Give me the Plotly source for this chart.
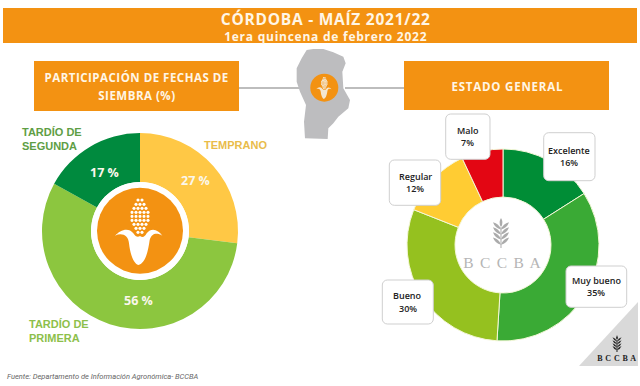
import math
import plotly.graph_objects as go

W, H = 640, 386

# ---- data ----
siembra_labels = ["Temprano", "Tardío de primera", "Tardío de segunda"]
siembra_values = [27, 56, 17]
siembra_colors = ["#FFC845", "#8CC63F", "#008A3E"]

estado_labels = ["Excelente", "Muy bueno", "Bueno", "Regular", "Malo"]
estado_values = [16, 35, 30, 12, 7]
estado_colors = ["#008D36", "#3AAA35", "#95C11F", "#FFCC33", "#E30613"]

ORANGE = "#F39212"
CREAM = "#FFF6E6"


def px(x):
    return x / W


def py(y):
    return 1 - y / H


shapes = []
annotations = []


def rect(x0, y0, x1, y1, fill):
    shapes.append(dict(type="rect", xref="paper", yref="paper", x0=px(x0), x1=px(x1),
                       y0=py(y1), y1=py(y0), fillcolor=fill, line=dict(width=0), layer="above"))


def circle(cx, cy, r, fill):
    shapes.append(dict(type="circle", xref="paper", yref="paper", x0=px(cx - r), x1=px(cx + r),
                       y0=py(cy + r), y1=py(cy - r), fillcolor=fill, line=dict(width=0), layer="above"))


def path(cmds, fill=None, line=None, lw=0):
    s = ""
    for c in cmds:
        s += c[0] + " " + " ".join(
            f"{px(c[i]):.5f} {py(c[i + 1]):.5f}" for i in range(1, len(c), 2)) + " "
    if fill:
        s += "Z"
    shapes.append(dict(type="path", xref="paper", yref="paper", path=s,
                       fillcolor=fill or "rgba(0,0,0,0)",
                       line=dict(width=lw, color=line or "rgba(0,0,0,0)"), layer="above"))


def poly(points, fill):
    path([("M", *points[0])] + [("L", *p) for p in points[1:]], fill=fill)


def text(x, y, s, size, color, family="Open Sans", weight=700, anchor="center", italic=False):
    annotations.append(dict(x=px(x), y=py(y), xref="paper", yref="paper", text=s, showarrow=False,
                            xanchor=anchor, yanchor="middle", align=anchor,
                            font=dict(size=size, color=color, family=family, weight=weight,
                                      style="italic" if italic else "normal"),
                            borderpad=0, borderwidth=0))


def round_box(x0, y0, x1, y1, r=5):
    k = r * 0.45
    path([("M", x0 + r, y0), ("L", x1 - r, y0), ("C", x1 - k, y0, x1, y0 + k, x1, y0 + r),
          ("L", x1, y1 - r), ("C", x1, y1 - k, x1 - k, y1, x1 - r, y1),
          ("L", x0 + r, y1), ("C", x0 + k, y1, x0, y1 - k, x0, y1 - r),
          ("L", x0, y0 + r), ("C", x0, y0 + k, x0 + k, y0, x0 + r, y0)],
         fill="#FFFFFF", line="#CFCFCF", lw=1)


def corn(cx, cy, scale, color):
    def T(zx, zy):
        return cx + (zx - 165) / 3 * scale, cy + (zy - 167) / 3 * scale

    rows = [(75, [159, 171]), (88, [153, 165, 177]), (100, [147, 159, 171, 183]),
            (112, [141, 153, 165, 177, 189]), (124, [141, 153, 165, 177, 189]),
            (136, [141, 153, 165, 177, 189]), (148, [147, 159, 171, 183]),
            (160, [153, 165, 177]), (172, [159, 171])]
    for zy, xs in rows:
        for zx in xs:
            circle(*T(zx, zy), max(1.55 * scale, 0.75), color)
    curve = [
        ("M", 90, 182),
        ("C", 105, 165, 130, 155, 145, 175), ("C", 152, 187, 160, 187, 165, 183),
        ("C", 172, 188, 178, 188, 185, 175), ("C", 200, 156, 220, 165, 232, 182),
        ("C", 215, 172, 200, 175, 194, 195), ("C", 190, 225, 182, 265, 160, 270),
        ("C", 145, 265, 135, 235, 132, 205), ("C", 130, 180, 110, 172, 90, 182),
    ]
    cmds = []
    for c in curve:
        pts = []
        for i in range(1, len(c), 2):
            pts += list(T(c[i], c[i + 1]))
        cmds.append((c[0], *pts))
    path(cmds, fill=color)


def wheat(cx, top, h, color):
    def leaf(x, y, angle, length, width):
        a = math.radians(angle)
        ux, uy = math.sin(a), -math.cos(a)
        nx, ny = -uy, ux
        mx, my = x + ux * length / 2, y + uy * length / 2
        path([("M", x, y),
              ("Q", mx + nx * width, my + ny * width, x + ux * length, y + uy * length),
              ("Q", mx - nx * width, my - ny * width, x, y)], fill=color)

    L = h * 0.36
    w = h * 0.10
    leaf(cx, top + h * 0.30, 0, h * 0.30, w)
    for f in (0.38, 0.55, 0.72, 0.89):
        leaf(cx, top + h * f, -48, L, w)
        leaf(cx, top + h * f, 48, L, w)
    path([("M", cx, top + h * 0.3), ("L", cx, top + h)], line=color, lw=1)


# ---- header (two lines in one text) ----
rect(3, 8, 637, 43, ORANGE)
text(325.5, 26.3, '<span style="font-size:15.5px">CÓRDOBA - MAÍZ 2021/22</span><br>1era quincena de febrero 2022',
     12, CREAM, weight=700)

# ---- connector lines and map ----
rect(238, 87, 300, 89, "#BDBDBD")
rect(345, 87, 405, 89, "#BDBDBD")
map_z = [(80, 15), (100, 12), (130, 12), (160, 22), (190, 35), (197, 55), (187, 80), (190, 130),
         (210, 165), (205, 190), (175, 215), (160, 235), (145, 250), (143, 282), (75, 280),
         (72, 230), (78, 180), (60, 140), (50, 110), (50, 70), (65, 40)]
poly([(280 + a / 3, 45 + b / 3) for a, b in map_z], "#BDBDBF")
circle(324.3, 87.7, 14, ORANGE)
corn(324.3, 87.7, 14 / 43, "#F3E6D0")

# ---- section boxes ----
rect(34, 61, 239, 111, ORANGE)
rect(404, 61, 609, 110, ORANGE)
text(136, 77.7, "PARTICIPACIÓN DE FECHAS DE", 11.5, CREAM)
text(137, 95.7, "SIEMBRA (%)", 11.5, CREAM)
text(507, 86, "ESTADO GENERAL", 11.5, CREAM)

# ---- left donut centre ----
circle(140, 231, 49, "#FFFFFF")
circle(140, 230.7, 43, ORANGE)
corn(140, 230.7, 1, "#FFFFFF")

# ---- left labels ----
GREEN_TXT = "#5E9E45"
text(22, 132, "TARDÍO DE", 11, GREEN_TXT, family="Liberation Sans", anchor="left")
text(22, 146, "SEGUNDA", 11, GREEN_TXT, family="Liberation Sans", anchor="left")
text(204, 145, "TEMPRANO", 11, "#E9BC4A", family="Liberation Sans", anchor="left")
text(29, 324, "TARDÍO DE", 11, "#8DBF4B", family="Liberation Sans", anchor="left")
text(29, 338, "PRIMERA", 11, "#8DBF4B", family="Liberation Sans", anchor="left")
pct_pos = [(195, 180), (138, 300), (104, 172)]
for (x, y), v in zip(pct_pos, siembra_values):
    text(x, y, f"{v} %", 12.5, "#FBF7EC")

# ---- right donut centre ----
wheat(501, 218, 30, "#ABABAB")
text(503, 262, "B C C B A", 15.5, "#B5B5B5", family="Liberation Serif", weight=400)

# ---- corner mark ----
poly([(638, 302), (638, 366), (579, 366)], "#D9D9D9")
wheat(617, 335, 17, "#222222")
text(616.5, 358, "B C C B A", 8, "#222222", family="Liberation Serif")

# ---- callouts ----
boxes = {
    "Excelente": (543.7, 132.7, 595, 180.7),
    "Muy bueno": (566, 266, 626.7, 307.3),
    "Bueno": (382.3, 280, 433.3, 324),
    "Regular": (389.3, 160, 440.7, 205.3),
    "Malo": (445.7, 114, 490, 159.3),
}
for name, v in zip(estado_labels, estado_values):
    x0, y0, x1, y1 = boxes[name]
    round_box(x0, y0, x1, y1)
    mid_x, mid_y = (x0 + x1) / 2, (y0 + y1) / 2
    text(mid_x, mid_y - 6.2, name, 9, "#222222", weight=600)
    text(mid_x, mid_y + 6.2, f"{v}%", 9, "#222222", weight=600)

# ---- footer ----
text(7, 376, "Fuente: Departamento de Información Agronómica- BCCBA", 7.5, "#666666",
     family="Roboto", weight=400, anchor="left", italic=True)

fig = go.Figure()
fig.add_trace(go.Pie(labels=siembra_labels, values=siembra_values, hole=0.5, sort=False,
                     direction="clockwise", rotation=0, textinfo="none", showlegend=False,
                     marker=dict(colors=siembra_colors, line=dict(width=0)),
                     domain=dict(x=[px(42), px(238)], y=[py(329), py(133)])))
fig.add_trace(go.Pie(labels=estado_labels, values=estado_values, hole=0.5, sort=False,
                     direction="clockwise", rotation=0, textinfo="none", showlegend=False,
                     marker=dict(colors=estado_colors, line=dict(width=1, color="#F4F7D8")),
                     domain=dict(x=[px(407), px(599)], y=[py(341), py(149)])))
fig.update_layout(width=W, height=H, margin=dict(l=0, r=0, t=0, b=0), showlegend=False,
                  paper_bgcolor="#FFFFFF", plot_bgcolor="#FFFFFF",
                  shapes=shapes, annotations=annotations)

post = """
document.body.style.margin='0';
document.documentElement.style.overflow='hidden';
var spacing=[['CÓRDOBA','0.75px'],['PARTICIPACIÓN','0.5px'],['SIEMBRA','0.5px'],['ESTADO','0.8px']];
document.querySelectorAll('.annotation-text').forEach(function(t){
  spacing.forEach(function(p){ if(t.textContent.indexOf(p[0])===0){ t.style.letterSpacing=p[1]; } });
  if(t.textContent==='B C C B A'){
    t.style.letterSpacing = parseFloat(t.style.fontSize)>10 ? '1.3px' : '0.4px';
  }
});
"""
fig.write_html("out.html", config=dict(displayModeBar=False), post_script=post)
